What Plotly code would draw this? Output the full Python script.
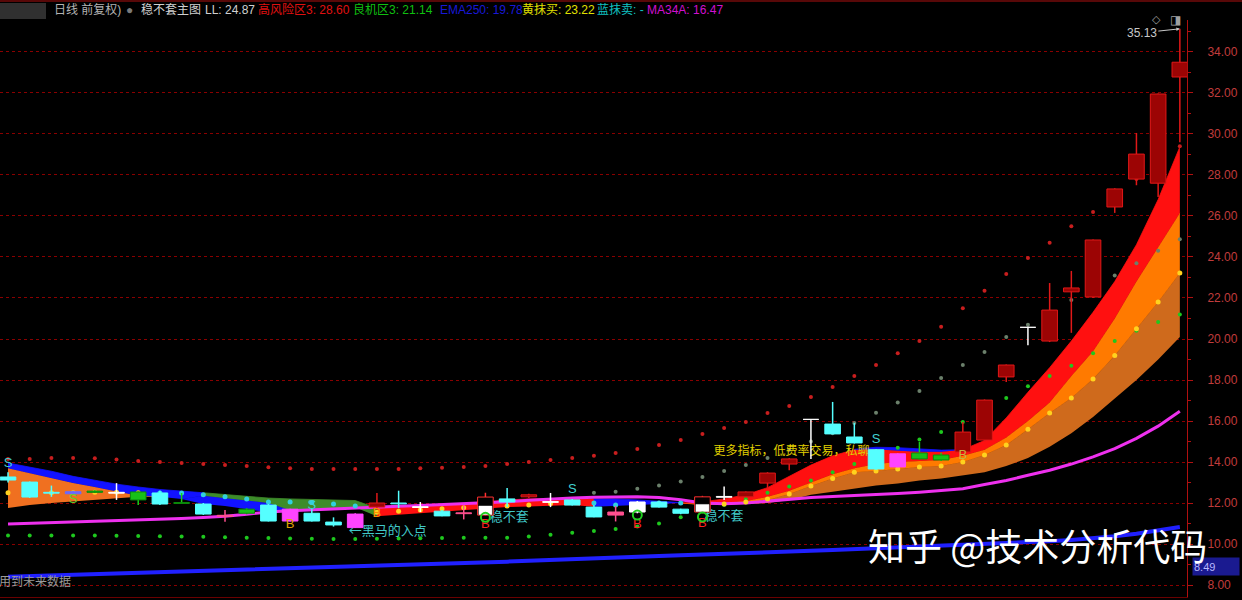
import plotly.graph_objects as go

N = 55
idx = list(range(N))

# ---------------- candles (open, high, low, close) ----------------
open_ = [13.27, 13.02, 12.52, 12.55, 12.58, 12.52, 12.54, 12.49, 12.02, 11.95,
         11.40, 11.70, 11.90, 11.70, 11.50, 11.07, 11.46, 11.80, 12.00, 11.82,
         11.60, 11.52, 11.41, 12.20, 12.30, 12.07, 12.15, 11.80, 11.56, 11.56,
         12.05, 11.70, 11.56, 12.32, 12.30, 12.97, 13.90, 16.10, 15.85, 15.22,
         14.60, 14.40, 14.44, 14.34, 14.49, 15.07, 18.15, 20.59, 19.90, 22.30,
         22.05, 26.44, 27.80, 27.60, 32.78]
close = [13.12, 12.29, 12.48, 12.45, 12.52, 12.48, 12.15, 11.95, 11.98, 11.46,
         11.35, 11.50, 11.12, 11.12, 11.12, 10.93, 10.80, 12.00, 11.96, 11.78,
         11.37, 11.48, 12.29, 12.05, 12.40, 12.03, 11.90, 11.32, 11.41, 12.05,
         11.80, 11.50, 12.30, 12.28, 12.54, 13.46, 14.15, 16.08, 15.37, 14.93,
         13.66, 13.76, 14.15, 14.10, 15.46, 17.02, 18.73, 20.57, 21.41, 22.49,
         24.83, 27.32, 29.02, 31.95, 33.50]
high = [13.50, 13.05, 12.85, 12.60, 12.62, 12.97, 12.56, 12.60, 12.49, 12.00,
        11.66, 11.75, 11.95, 11.72, 11.70, 11.30, 11.50, 12.49, 12.60, 12.05,
        11.65, 11.90, 12.50, 12.73, 12.45, 12.49, 12.20, 11.90, 11.85, 12.10,
        12.08, 11.72, 12.35, 12.80, 12.56, 13.50, 14.18, 16.10, 16.93, 15.90,
        14.62, 14.42, 14.98, 14.45, 15.95, 17.05, 18.75, 20.60, 22.73, 23.32,
        24.85, 27.35, 30.05, 31.97, 35.13]
low = [13.00, 12.25, 12.30, 12.40, 12.50, 12.15, 11.90, 11.90, 11.97, 11.42,
       11.08, 11.45, 11.10, 11.10, 11.10, 10.85, 10.78, 11.70, 11.75, 11.56,
       11.35, 11.20, 11.40, 11.80, 12.25, 11.80, 11.88, 11.30, 11.10, 11.50,
       11.78, 11.45, 11.50, 12.15, 12.28, 12.70, 13.60, 14.15, 15.35, 14.90,
       13.62, 13.74, 14.12, 14.05, 14.45, 15.00, 17.90, 19.70, 19.85, 20.30,
       22.00, 26.15, 27.50, 26.93, 29.60]
kind = ['c', 'c', 'c', 'v', 'g', 'w', 'g', 'c', 'g', 'c',
        'p', 'g', 'c', 'm', 'c', 'c', 'm', 'r', 'c', 'w',
        'c', 'p', 'wb', 'c', 'r', 'w', 'c', 'c', 'p', 'w',
        'c', 'c', 'wb', 'w', 'r', 'r', 'r', 'w', 'c', 'c',
        'c', 'm', 'g', 'g', 'r', 'r', 'r', 'w', 'r', 'r',
        'r', 'r', 'r', 'r', 'r']

# ---------------- lines ----------------
ema250 = [8.40, 8.43, 8.46, 8.49, 8.52, 8.55, 8.58, 8.61, 8.64, 8.67,
          8.70, 8.73, 8.76, 8.79, 8.82, 8.85, 8.88, 8.91, 8.95, 8.98,
          9.02, 9.06, 9.10, 9.14, 9.18, 9.21, 9.25, 9.29, 9.33, 9.37,
          9.41, 9.45, 9.48, 9.52, 9.56, 9.60, 9.64, 9.67, 9.71, 9.75,
          9.79, 9.83, 9.87, 9.91, 9.95, 9.99, 10.04, 10.09, 10.14, 10.20,
          10.27, 10.38, 10.50, 10.65, 10.83]
ma34a = [10.98, 11.01, 11.04, 11.07, 11.10, 11.13, 11.16, 11.20, 11.24, 11.29,
         11.35, 11.45, 11.56, 11.62, 11.67, 11.72, 11.76, 11.80, 11.84, 11.88,
         11.92, 11.96, 12.00, 12.06, 12.14, 12.20, 12.25, 12.28, 12.30, 12.30,
         12.27, 12.16, 12.00, 11.96, 12.00, 12.10, 12.20, 12.27, 12.32, 12.36,
         12.40, 12.46, 12.53, 12.60, 12.70, 12.90, 13.10, 13.35, 13.60, 13.90,
         14.25, 14.65, 15.15, 15.75, 16.47]

# ---------------- ribbon boundaries (top to bottom) ----------------
band0 = [13.95, 13.75, 13.55, 13.30, 13.10, 12.92, 12.78, 12.66, 12.58, 12.50,
         12.42, 12.33, 12.24, 12.20, 12.17, 12.15, 12.12, 11.75, 11.80, 11.85,
         11.90, 11.97, 12.05, 12.15, 12.20, 12.20, 12.20, 12.20, 12.20, 12.15,
         12.10, 12.02, 12.05, 12.20, 12.40, 12.75, 13.30, 13.85, 14.30, 14.62,
         14.72, 14.70, 14.65, 14.58, 14.60, 15.05, 16.15, 17.40, 18.60, 19.90,
         21.30, 22.80, 24.60, 26.80, 29.37]
band1 = [13.70, 13.45, 13.20, 12.97, 12.78, 12.55, 12.35, 12.30, 12.20, 12.35,
         12.25, 12.12, 12.00, 11.65, 11.70, 11.74, 11.79, 11.35, 11.42, 11.50,
         11.56, 11.64, 11.72, 11.80, 11.83, 11.87, 11.90, 11.82, 11.85, 11.90,
         11.95, 12.00, 12.05, 12.20, 12.40, 12.75, 13.30, 13.85, 14.30, 14.60,
         14.62, 14.55, 14.50, 14.50, 14.60, 15.05, 16.15, 17.40, 18.60, 19.90,
         21.30, 22.80, 24.60, 26.80, 29.37]
band2 = [11.76, 11.90, 12.00, 12.08, 12.15, 12.22, 12.30, 12.30, 12.20, 11.95,
         11.85, 11.70, 11.55, 11.65, 11.70, 11.74, 11.79, 11.35, 11.42, 11.50,
         11.56, 11.64, 11.72, 11.80, 11.83, 11.87, 11.90, 11.82, 11.85, 11.90,
         11.95, 12.00, 11.95, 12.00, 12.10, 12.30, 12.60, 13.00, 13.40, 13.70,
         13.90, 14.00, 14.05, 14.10, 14.30, 14.60, 15.20, 16.00, 16.90, 18.20,
         19.40, 21.00, 22.80, 24.50, 26.15]
band3 = [11.76, 11.90, 12.00, 12.08, 12.15, 12.22, 12.30, 12.30, 12.20, 11.95,
         11.85, 11.70, 11.55, 11.65, 11.70, 11.74, 11.79, 11.35, 11.42, 11.50,
         11.56, 11.64, 11.72, 11.80, 11.83, 11.87, 11.90, 11.82, 11.85, 11.90,
         11.95, 12.00, 11.92, 11.95, 12.00, 12.15, 12.44, 12.83, 13.20, 13.50,
         13.56, 13.66, 13.76, 13.80, 14.00, 14.34, 14.83, 15.60, 16.39, 17.12,
         18.05, 19.20, 20.50, 21.80, 23.22]
band4 = [11.76, 11.90, 12.00, 12.08, 12.15, 12.22, 12.30, 12.30, 12.20, 11.95,
         11.85, 11.70, 11.55, 11.65, 11.70, 11.74, 11.79, 11.35, 11.42, 11.50,
         11.56, 11.64, 11.72, 11.80, 11.83, 11.87, 11.90, 11.82, 11.85, 11.90,
         11.95, 12.00, 11.90, 11.92, 11.95, 12.00, 12.15, 12.40, 12.55, 12.70,
         12.85, 12.95, 13.10, 13.20, 13.35, 13.50, 13.80, 14.20, 14.75, 15.40,
         16.20, 17.10, 18.00, 19.00, 20.10]
# colour of each ribbon layer from bar i to bar i+1
fill01 = ['b'] * 9 + ['g'] * 8 + ['r'] * 10 + ['b'] * 4 + [''] * 8 + ['b'] * 5 + [''] * 11
fill12 = ['o1'] * 7 + [''] + ['b'] * 5 + [''] * 18 + ['r'] * 24
fill23 = [''] * 31 + ['o'] * 24
fill34 = [''] * 31 + ['n'] * 24

# ---------------- dot series ----------------
risk_dots = [14.15, 14.15, 14.20, 14.20, 14.18, 14.12, 14.05, 14.00, 13.95, 13.90,
             13.85, 13.80, 13.75, 13.70, 13.66, 13.66, 13.66, 13.66, 13.66, 13.70,
             13.72, 13.76, 13.80, 13.90, 14.00, 14.10, 14.20, 14.30, 14.44, 14.63,
             14.83, 15.07, 15.37, 15.66, 15.95, 16.39, 16.73, 17.17, 17.66, 18.20,
             18.73, 19.30, 19.90, 20.60, 21.50, 22.35, 23.17, 23.95, 24.70, 25.50,
             26.20, 27.00, 27.80, 28.60, 29.40]
chance_dots = [10.42, 10.42, 10.42, 10.42, 10.41, 10.40, 10.39, 10.38, 10.36, 10.35,
               10.33, 10.31, 10.29, 10.27, 10.26, 10.25, 10.25, 10.26, 10.27, 10.28,
               10.29, 10.30, 10.30, 10.30, 10.36, 10.45, 10.55, 10.63, 10.73, 10.85,
               11.00, 11.30, 11.60, 11.90, 12.20, 12.50, 12.80, 13.10, 13.50, 13.90,
               14.30, 14.70, 15.10, 15.46, 15.95, 16.50, 17.12, 17.70, 18.20, 18.70,
               19.30, 19.90, 20.40, 20.83, 21.20]
ll_dots = [None] * 27 + [12.50, 12.55, 12.70, 12.85, 13.05, 13.27, 13.56, 13.85, 14.20,
                         14.60, 15.00, 15.40, 15.90, 16.40, 16.90, 17.46, 18.10, 18.73,
                         19.37, 20.10, 20.70, 21.30, 21.90, 22.50, 23.10, 23.70, 24.30, 24.87]
mid_dots = [12.50, 12.50, 12.50, 12.50, 12.52, 12.52, 12.50, 12.49, 12.49, 12.40,
            12.30, 12.20, 12.05, 12.05, 12.02, 11.95, 11.85, 11.55, 11.60, 11.66,
            11.72, 11.77, 11.80, 11.85, 11.90, 11.97, 12.02, 12.00, 11.90, 11.95,
            12.00, 12.00, 11.92, 11.95, 12.05, 12.20, 12.44, 12.83, 13.20, 13.50,
            13.56, 13.66, 13.76, 13.80, 14.00, 14.34, 14.83, 15.60, 16.39, 17.12,
            18.05, 19.20, 20.50, 21.80, 23.22]
mid_kind = ['y'] * 7 + ['c'] * 10 + ['y'] * 10 + ['c'] * 5 + ['y'] * 23

# ---------------- signals / notes ----------------
sig_i = [0, 3, 14, 26, 40, 13, 17, 22, 29, 32, 44]
sig_y = [13.90, 12.15, 11.85, 12.63, 15.07, 10.95, 11.50, 10.93, 10.95, 10.98, 14.30]
sig_t = ['S', 'S', 'S', 'S', 'S', 'B', 'B', 'B', 'B', 'B', 'B']
sig_c = ['#40d0d0', '#60d030', '#40d0d0', '#40d0d0', '#40d0d0', '#e0a000',
         '#ff8c00', '#ff2020', '#ff2020', '#ff2020', '#c8b040']
circ_i = [22, 29, 32]
circ_y = [11.30, 11.41, 11.32]
note_x = [17.5, 23.1, 33.0, 36.1]
note_y = [10.60, 11.27, 11.32, 14.49]
note_t = ['←黑马的入点', '稳不套', '稳不套', '更多指标，低费率交易，私聊']
note_c = ['#40c8c8', '#40c8c8', '#40c8c8', '#e0d000']
note_s = [13, 13, 13, 12]

y_ticks = [8, 10, 12, 14, 16, 18, 20, 22, 24, 26, 28, 30, 32, 34]
y_minor = [9, 11, 13, 15, 17, 19, 21, 23, 25, 27, 29, 31, 33, 35]

header = [
    (52, '日线 前复权)', '#b4b4b4'),
    (124, '●', '#7a7a7a'),
    (139, '稳不套主图', '#d0d0d0'),
    (203, 'LL: 24.87', '#d0d0d0'),
    (256, '高风险区3: 28.60', '#e01010'),
    (351, '良机区3: 21.14', '#10c010'),
    (438, 'EMA250: 19.78', '#1818d8'),
    (520, '黄抹买: 23.22', '#e0e000'),
    (595, '蓝抹卖: -', '#10c0c0'),
    (645, 'MA34A: 16.47', '#d010d0'),
]

# ---------------- figure ----------------
CJK = 'Noto Sans CJK SC'
fig = go.Figure()

band_colors = {'b': '#1212ff', 'g': '#3d8c2a', 'r': '#ff1010',
               'o1': '#f07020', 'o': '#ff7a00', 'n': '#cf6a1c'}
lines = [band0, band1, band2, band3, band4]
fills = [fill01, fill12, fill23, fill34]
for k in range(3, -1, -1):
    up, lo, fc = lines[k], lines[k + 1], fills[k]
    i = 0
    while i < N:
        if not fc[i]:
            i += 1
            continue
        j = i
        while j + 1 < N and fc[j + 1] == fc[i]:
            j += 1
        end = min(j + 1, N - 1)
        col = band_colors[fc[i]]
        xs = idx[i:end + 1]
        fig.add_trace(go.Scatter(x=xs, y=lo[i:end + 1], mode='lines',
                                 line=dict(width=0), hoverinfo='skip', showlegend=False))
        fig.add_trace(go.Scatter(x=xs, y=up[i:end + 1], mode='lines',
                                 line=dict(width=0.8, color=col), fill='tonexty',
                                 fillcolor=col, hoverinfo='skip', showlegend=False))
        i = j + 1

fig.add_trace(go.Scatter(x=idx, y=ema250, mode='lines', line=dict(color='#2020ff', width=4),
                         showlegend=False, hoverinfo='skip'))
fig.add_trace(go.Scatter(x=idx, y=ma34a, mode='lines', line=dict(color='#ee30ee', width=3),
                         showlegend=False, hoverinfo='skip'))

# dots
fig.add_trace(go.Scatter(x=idx, y=risk_dots, mode='markers',
                         marker=dict(color='#c81e1e', size=4), showlegend=False, hoverinfo='skip'))
fig.add_trace(go.Scatter(x=idx, y=chance_dots, mode='markers',
                         marker=dict(color='#1ec81e', size=4), showlegend=False, hoverinfo='skip'))
fig.add_trace(go.Scatter(x=idx, y=ll_dots, mode='markers',
                         marker=dict(color='#6b806b', size=4), showlegend=False, hoverinfo='skip'))
mid_col = {'y': '#ffd21e', 'c': '#30d0e0'}
fig.add_trace(go.Scatter(x=idx, y=mid_dots, mode='markers',
                         marker=dict(color=[mid_col[m] for m in mid_kind], size=5),
                         showlegend=False, hoverinfo='skip'))

# notes (under the candles)
for x, y, t, c, s in zip(note_x, note_y, note_t, note_c, note_s):
    fig.add_trace(go.Scatter(x=[x], y=[y], mode='text', text=[t],
                             textfont=dict(color=c, size=s, family=CJK),
                             showlegend=False, hoverinfo='skip'))

# candles
wick_col = {'r': '#e01818', 'c': '#55ffff', 'w': '#ffffff', 'wb': '#ff3030',
            'm': '#ff44ff', 'g': '#18d018', 'p': '#ff4f8f', 'v': '#7070ff'}
body_fill = {'r': '#9c0404', 'c': '#55ffff', 'w': '#ffffff', 'wb': '#000000',
             'm': '#ff44ff', 'g': '#18c018', 'p': '#ff4f8f', 'v': '#6a6aff'}
body_line = {'r': '#e01818', 'c': '#55ffff', 'w': '#ffffff', 'wb': '#ff3030',
             'm': '#ff44ff', 'g': '#0a8a0a', 'p': '#ff4f8f', 'v': '#6a6aff'}
HW = 0.36
for kd in wick_col:
    ids = [i for i in idx if kind[i] == kd]
    wx, wy = [], []
    for i in ids:
        wx += [i, i, None]
        wy += [low[i], high[i], None]
    fig.add_trace(go.Scatter(x=wx, y=wy, mode='lines', line=dict(color=wick_col[kd], width=1.5),
                             showlegend=False, hoverinfo='skip'))
for kd in wick_col:
    ids = [i for i in idx if kind[i] == kd]
    bx, by = [], []
    for i in ids:
        lo_, hi_ = min(open_[i], close[i]), max(open_[i], close[i])
        bx += [i - HW, i + HW, i + HW, i - HW, i - HW, None]
        by += [lo_, lo_, hi_, hi_, lo_, None]
    fig.add_trace(go.Scatter(x=bx, y=by, mode='lines', fill='toself',
                             fillcolor=body_fill[kd], line=dict(color=body_line[kd], width=1),
                             showlegend=False, hoverinfo='skip'))
    if kd == 'wb':
        hx, hy = [], []
        for i in ids:
            lo_, hi_ = min(open_[i], close[i]), max(open_[i], close[i])
            mid = (lo_ + hi_) / 2
            hx += [i - HW + 0.06, i + HW - 0.06, i + HW - 0.06, i - HW + 0.06, i - HW + 0.06, None]
            hy += [lo_ + 0.03, lo_ + 0.03, mid, mid, lo_ + 0.03, None]
        fig.add_trace(go.Scatter(x=hx, y=hy, mode='lines', fill='toself', fillcolor='#ffffff',
                                 line=dict(color='#ffffff', width=0.5),
                                 showlegend=False, hoverinfo='skip'))

# signals
fig.add_trace(go.Scatter(x=sig_i, y=sig_y, mode='text', text=sig_t,
                         textfont=dict(color=sig_c, size=13, family='Liberation Sans'),
                         showlegend=False, hoverinfo='skip'))
fig.add_trace(go.Scatter(x=circ_i, y=circ_y, mode='markers',
                         marker=dict(symbol='circle-open', color='#20d020', size=9, line=dict(width=2)),
                         showlegend=False, hoverinfo='skip'))

PW = 1187.0


def pxx(v):
    return v / PW


def pyy(v):
    return (597.0 - v) / 577.0


ann = []
for x, t, c in header:
    ann.append(dict(x=pxx(x), y=pyy(10), xref='paper', yref='paper', xanchor='left',
                    yanchor='middle', text=t, showarrow=False,
                    font=dict(color=c, size=12, family='Liberation Sans, ' + CJK)))
ann.append(dict(x=pxx(1163), y=pyy(9), xref='paper', yref='paper', text='◇', showarrow=False,
                font=dict(color='#a0a0a0', size=11)))
ann.append(dict(x=pxx(1183), y=pyy(9), xref='paper', yref='paper', text='◨', showarrow=False,
                font=dict(color='#a0a0a0', size=12)))
ann.append(dict(x=54, y=35.13, xref='x', yref='y', text='35.13', showarrow=True,
                ax=-38, ay=4, arrowcolor='#c8c8c8', arrowhead=2, arrowsize=0.7, arrowwidth=1,
                font=dict(color='#c8c8c8', size=12, family='Liberation Sans')))
ann.append(dict(x=pxx(1192), y=8.88, xref='paper', yref='y', xanchor='left', yanchor='middle',
                text='8.49', showarrow=False, bgcolor='#1a1a90', width=44, align='left',
                height=15, font=dict(color='#b8b8ff', size=11, family='Liberation Sans')))
ann.append(dict(x=pxx(-3), y=pyy(580), xref='paper', yref='paper', xanchor='left', yanchor='middle',
                text='用到未来数据', showarrow=False, font=dict(color='#9a9a9a', size=12, family=CJK)))
ann.append(dict(x=pxx(866), y=pyy(545), xref='paper', yref='paper', xanchor='left', yanchor='middle',
                text='知乎 @技术分析代码', showarrow=False,
                font=dict(color='#ffffff', size=37, family=CJK)))

shapes = [
    dict(type='line', xref='paper', yref='paper', x0=0, x1=pxx(1242), y0=pyy(1), y1=pyy(1),
         line=dict(color='#b01010', width=1)),
    dict(type='rect', xref='paper', yref='paper', x0=0, x1=pxx(46), y0=pyy(19), y1=pyy(3),
         fillcolor='#3c3c3c', line=dict(width=0), opacity=0.8),
]

fig.update_layout(
    width=1242, height=600, autosize=False,
    margin=dict(l=0, r=55, t=20, b=3),
    paper_bgcolor='#000000', plot_bgcolor='#000000',
    showlegend=False,
    xaxis=dict(range=[-0.369, 54.33], showgrid=False, zeroline=False, showticklabels=False,
               ticks='', showline=True, linecolor='#6a0000', linewidth=1),
    yaxis=dict(side='right', range=[7.415, 35.56], tickmode='array', tickvals=y_ticks,
               ticktext=['%.2f' % v for v in y_ticks], ticks='outside', ticklen=5,
               tickcolor='#b01010', showline=True, linecolor='#b01010', linewidth=1,
               showgrid=True, gridcolor='#8a0000', griddash='dot', gridwidth=1,
               zeroline=False, ticklabelstandoff=12,
               tickfont=dict(color='#c03c3c', size=12, family='Liberation Sans'),
               minor=dict(tickmode='array', tickvals=y_minor, ticks='outside', ticklen=3,
                          tickcolor='#b01010', showgrid=False)),
    annotations=ann,
    shapes=shapes,
)

fig.write_html('out.html', config={'displayModeBar': False},
               post_script="document.body.style.margin='0';document.body.style.overflow='hidden';document.body.style.background='#000';")
